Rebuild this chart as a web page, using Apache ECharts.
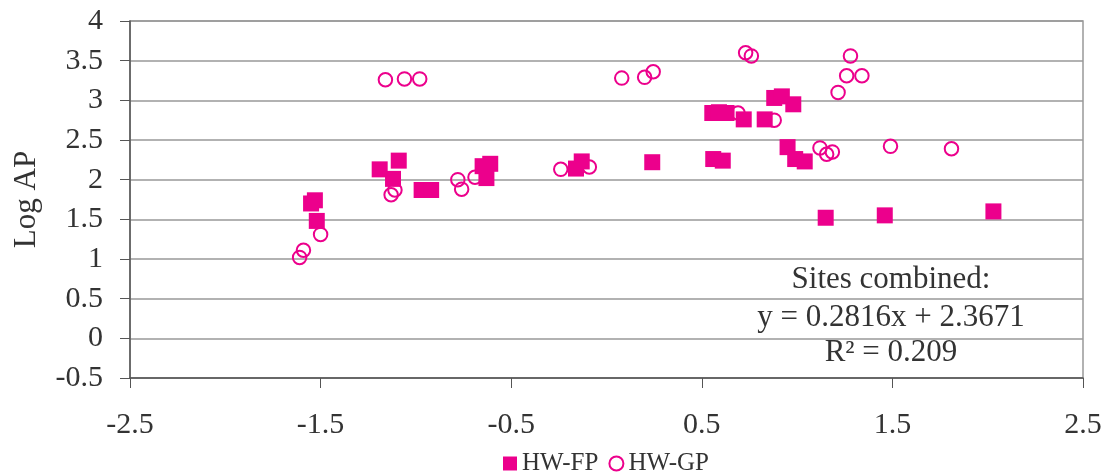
<!DOCTYPE html>
<html>
<head>
<meta charset="utf-8">
<script src="https://cdn.jsdelivr.net/npm/echarts@6/dist/echarts.min.js"></script>
<style>
  html, body { margin: 0; padding: 0; background: #fff; }
  #main { width: 1105px; height: 476px; }
</style>
</head>
<body>
<div id="main"></div>
<script>
// HW-FP (filled squares)
var fpX = [-1.55, -1.53, -1.52, -1.19, -1.09, -1.12, -0.97, -0.92, -0.65, -0.61, -0.63, -0.16, -0.13, 0.24, 0.56, 0.61,
           0.555, 0.59, 0.63, 0.72, 0.83, 0.88, 0.92, 0.98, 0.95, 0.99, 1.04, 1.15, 1.46, 2.03];
var fpY = [1.70, 1.74, 1.48, 2.13, 2.24, 2.01, 1.87, 1.87, 2.17, 2.20, 2.02, 2.14, 2.23, 2.22, 2.26, 2.24,
           2.84, 2.85, 2.84, 2.76, 2.76, 3.03, 3.05, 2.95, 2.41, 2.26, 2.23, 1.52, 1.55, 1.60];
// HW-GP (open circles)
var gpX = [-1.16, -1.06, -0.98, -1.61, -1.59, -1.50, -1.13, -1.11, -0.78, -0.76, -0.69, -0.24, -0.09, 0.08, 0.20, 0.245,
           0.73, 0.76, 0.69, 0.88, 1.12, 1.155, 1.185, 1.28, 1.26, 1.34, 1.215, 1.49, 1.81];
var gpY = [3.26, 3.27, 3.27, 1.02, 1.11, 1.31, 1.81, 1.87, 2.00, 1.88, 2.03, 2.13, 2.16, 3.28, 3.29, 3.36,
           3.60, 3.56, 2.84, 2.75, 2.40, 2.32, 2.35, 3.56, 3.31, 3.31, 3.10, 2.42, 2.39];
var seriesNames = ['HW-FP', 'HW-GP'];
var xRange = [-2.5, 2.5];
var yRange = [-0.5, 4];
var noteLines = ['Sites combined:', 'y = 0.2816x + 2.3671', 'R\u00B2 = 0.209'];

var pink = '#EC008C';
var font = '"Liberation Serif", "Times New Roman", serif';

function pairs(xs, ys) {
    var out = [];
    for (var i = 0; i < xs.length; i++) {
        out.push([xs[i], ys[i]]);
    }
    return out;
}

// centred text line for the fit note
function note(text, y) {
    return {
        type: 'text', x: 891, y: y, z: 100,
        style: { text: text, fontSize: 31, fontFamily: font, fill: '#333', align: 'center', verticalAlign: 'middle' }
    };
}

var myChart = echarts.init(document.getElementById('main'));
var option = {
    animation: false,
    textStyle: { fontFamily: font, color: '#333' },
    grid: {
        left: 130, right: 22, top: 21, bottom: 98,
        show: true, borderColor: '#999', borderWidth: 1.5
    },
    legend: {
        data: [
            { name: seriesNames[0], icon: 'rect' },
            { name: seriesNames[1] }
        ],
        left: 498, top: 446,
        itemWidth: 14, itemHeight: 14, itemGap: 10,
        textStyle: { fontFamily: font, fontSize: 25, color: '#333' }
    },
    xAxis: {
        type: 'value',
        min: xRange[0], max: xRange[1], interval: 1,
        axisLine: { onZero: false, lineStyle: { color: '#555', width: 1.5 } },
        axisTick: { show: true, length: 10, lineStyle: { color: '#555' } },
        axisLabel: { fontSize: 30, margin: 32, color: '#333', fontFamily: font },
        splitLine: { show: false }
    },
    yAxis: {
        type: 'value',
        min: yRange[0], max: yRange[1], interval: 0.5,
        name: 'Log AP',
        nameLocation: 'middle',
        nameGap: 88,
        nameTextStyle: { fontSize: 31, color: '#333', fontFamily: font },
        axisLine: { show: true, onZero: false, lineStyle: { color: '#555', width: 1.5 } },
        axisTick: { show: true, length: 10, lineStyle: { color: '#555' } },
        axisLabel: { fontSize: 30, margin: 27, color: '#333', fontFamily: font },
        splitLine: { show: true, lineStyle: { color: '#999', width: 1.5 } }
    },
    graphic: [
        note(noteLines[0], 280),
        note(noteLines[1], 318),
        note(noteLines[2], 353)
    ],
    series: [
        {
            name: seriesNames[0],
            type: 'scatter',
            symbol: 'rect',
            symbolSize: 16,
            z: 3,
            itemStyle: { color: pink, opacity: 1 },
            data: pairs(fpX, fpY)
        },
        {
            name: seriesNames[1],
            type: 'scatter',
            symbol: 'circle',
            symbolSize: 13.5,
            z: 2,
            itemStyle: { color: 'rgba(255,255,255,0)', borderColor: pink, borderWidth: 2, opacity: 1 },
            data: pairs(gpX, gpY)
        }
    ]
};
myChart.setOption(option);
</script>
</body>
</html>
